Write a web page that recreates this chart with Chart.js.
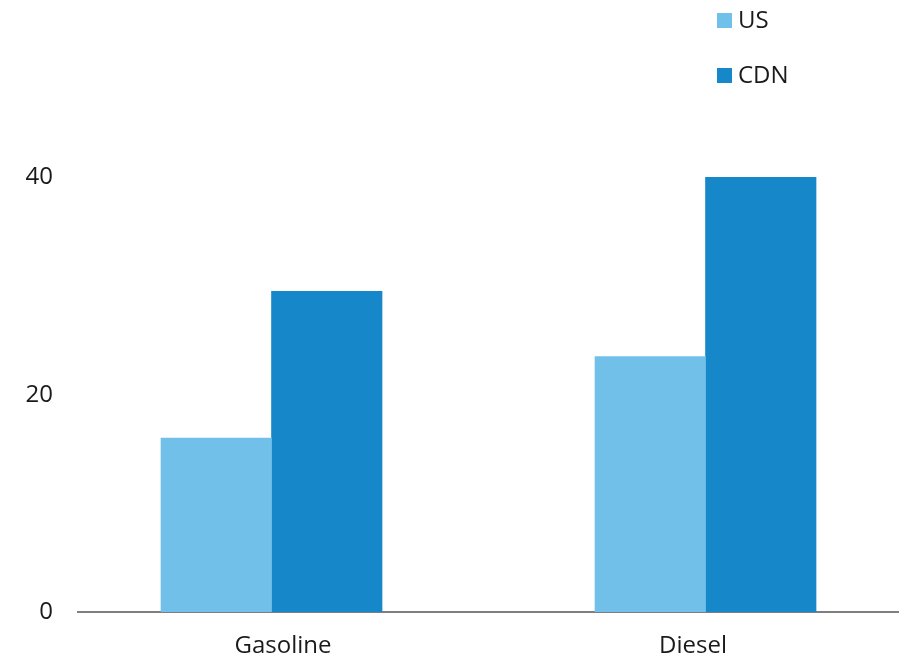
<!DOCTYPE html>
<html>
<head>
<meta charset="utf-8">
<script src="https://cdn.jsdelivr.net/npm/chart.js@4/dist/chart.umd.min.js"></script>
<style>
  html, body { margin: 0; padding: 0; background: #ffffff; }
  #wrap { position: relative; width: 905px; height: 660px; }
  #chart { position: absolute; left: 0; top: 0; }
  .legend-item {
    position: absolute; left: 717px; display: flex; align-items: center;
    font-family: "Open Sans", sans-serif; font-size: 24px; color: #1a1a1a; line-height: 30px;
  }
  .legend-box { width: 15px; height: 15px; margin-right: 6px; margin-top: 3px; }
</style>
</head>
<body>
<div id="wrap">
  <canvas id="chart" width="905" height="660"></canvas>
</div>
<script>
// Fuel categories and the two series plotted for each
const categories = ['Gasoline', 'Diesel'];
const seriesNames = ['US', 'CDN'];
const usValues = [16.0, 23.5];
const cdnValues = [29.5, 40.0];
const yTicks = [0, 20, 40];

const colors = ['#70c0ea', '#1687c9'];
const textColor = '#1a1a1a';
const fontFamily = '"Open Sans", sans-serif';

// Legend rows (stacked vertically at top right)
const legendTops = [4, 59];
seriesNames.forEach((name, i) => {
  const item = document.createElement('div');
  item.className = 'legend-item';
  item.style.top = legendTops[i] + 'px';
  const box = document.createElement('span');
  box.className = 'legend-box';
  box.style.background = colors[i];
  const label = document.createElement('span');
  label.textContent = name;
  item.appendChild(box);
  item.appendChild(label);
  document.getElementById('wrap').appendChild(item);
});

const toPoints = vals => vals.map((v, i) => ({ x: i, y: v }));

new Chart(document.getElementById('chart'), {
  type: 'bar',
  data: {
    labels: categories,
    datasets: [
      { label: seriesNames[0], data: toPoints(usValues), backgroundColor: colors[0], xAxisID: 'x', barThickness: 110.5 },
      { label: seriesNames[1], data: toPoints(cdnValues), backgroundColor: colors[1], xAxisID: 'x', barThickness: 110.5 }
    ]
  },
  options: {
    responsive: false,
    animation: false,
    layout: { padding: { left: 0, right: 7, top: 123, bottom: 0 } },
    plugins: { legend: { display: false }, tooltip: { enabled: false } },
    scales: {
      x: {
        type: 'linear',
        display: false,
        offset: false,
        min: -0.4459,
        max: 1.4435
      },
      xCat: {
        type: 'category',
        position: 'bottom',
        labels: categories,
        offset: true,
        grid: { display: false, drawTicks: false },
        border: { display: true, color: '#7f7f7f', width: 2 },
        ticks: { color: textColor, font: { family: fontFamily, size: 24 }, padding: 20 },
        afterFit: s => { s.height = 48; }
      },
      y: {
        min: 0,
        max: 45,
        grid: { display: false, drawTicks: false },
        border: { display: false },
        ticks: { color: textColor, font: { family: fontFamily, size: 24 }, padding: 25 },
        afterBuildTicks: s => { s.ticks = yTicks.map(v => ({ value: v })); },
        afterFit: s => { s.width = 78; }
      }
    }
  }
});
</script>
</body>
</html>
